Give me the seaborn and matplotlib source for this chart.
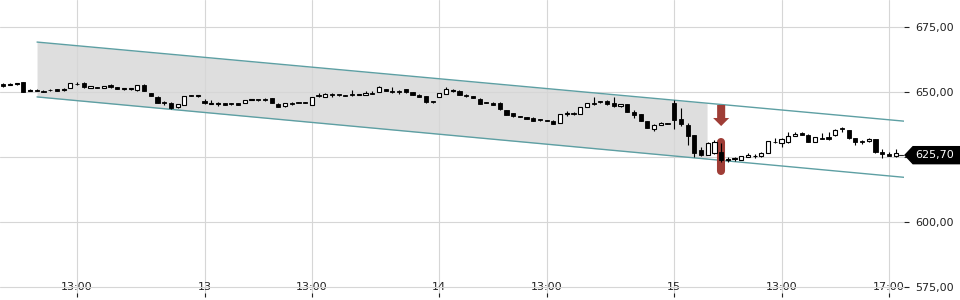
import numpy as np
import matplotlib
matplotlib.use("Agg")
import matplotlib.pyplot as plt
import matplotlib.transforms as mtransforms
from matplotlib.patches import FancyArrow, Polygon
from matplotlib.ticker import FuncFormatter
import seaborn as sns

# ---------------- data (15-minute candles, 12.-15.) ----------------
opens = [653.0, 652.6, 653.0, 653.7, 650.3, 650.8, 650.5, 650.7, 651.0, 650.6,
         651.7, 653.0, 653.6, 651.5, 652.0, 651.6, 652.6, 651.8, 651.0, 651.0,
         650.6, 652.7, 649.6, 648.2, 646.0, 645.6, 644.2, 645.0, 648.7, 648.3,
         646.6, 645.4, 645.4, 645.6, 645.6, 645.7, 645.8, 646.9, 647.0, 647.2,
         647.6, 645.5, 644.5, 645.9, 646.0, 645.9, 645.0, 648.5, 648.0, 649.4,
         648.9, 648.7, 648.9, 648.8, 649.0, 649.8, 650.0, 651.1, 650.4, 650.1,
         651.0, 650.0, 649.0, 648.5, 646.1, 648.0, 649.4, 650.5, 650.4, 649.0,
         648.3, 647.4, 645.8, 645.6, 645.8, 643.0, 642.0, 640.6, 640.2, 640.1,
         639.2, 639.1, 639.0, 638.0, 641.6, 642.0, 641.5, 644.4, 645.6, 646.5,
         646.7, 645.6, 644.6, 645.4, 642.4, 641.5, 638.8, 635.6, 637.4, 637.8,
         645.6, 639.5, 637.4, 633.3, 627.5, 625.9, 626.4, 627.0, 624.0, 624.1,
         624.0, 625.0, 625.2, 625.2, 626.6, 630.8, 630.5, 630.6, 633.2, 634.3,
         633.6, 630.9, 632.1, 632.7, 633.3, 636.0, 635.4, 632.3, 630.8, 631.0,
         632.0, 627.0, 626.1, 625.4]
highs = [653.3, 653.3, 653.5, 653.8, 651.0, 651.0, 650.7, 651.2, 651.3, 651.4,
         653.5, 653.8, 653.8, 652.3, 652.1, 652.3, 653.0, 651.9, 651.7, 651.7,
         652.7, 653.0, 649.7, 648.3, 646.6, 646.0, 645.4, 648.6, 648.8, 648.5,
         647.2, 646.9, 646.2, 645.7, 645.7, 645.8, 647.1, 647.1, 647.1, 647.8,
         647.7, 645.6, 645.9, 646.0, 646.1, 646.0, 648.0, 649.6, 649.5, 649.5,
         649.0, 648.8, 650.8, 649.0, 650.4, 650.3, 652.3, 651.2, 651.8, 650.8,
         651.3, 650.1, 649.1, 648.6, 646.2, 649.6, 651.8, 651.2, 650.8, 649.1,
         648.4, 647.5, 646.3, 646.0, 646.3, 643.1, 642.1, 640.7, 640.3, 640.2,
         639.6, 639.2, 639.1, 641.7, 642.5, 642.3, 644.3, 645.8, 648.0, 646.7,
         646.8, 648.2, 645.5, 645.5, 643.0, 641.6, 638.9, 637.5, 638.3, 637.9,
         646.9, 643.7, 638.1, 633.6, 628.8, 630.8, 631.7, 630.5, 625.0, 624.9,
         625.3, 626.6, 626.3, 627.0, 631.2, 632.2, 632.2, 634.7, 634.5, 634.8,
         633.7, 632.6, 634.2, 634.5, 635.6, 636.5, 635.5, 632.4, 631.6, 632.4,
         632.1, 627.9, 627.0, 628.2]
lows = [652.0, 652.5, 652.6, 649.9, 650.2, 650.2, 649.9, 650.5, 650.4, 650.5,
        651.6, 652.8, 651.7, 651.4, 651.4, 651.5, 651.7, 651.1, 650.9, 650.9,
        650.5, 650.2, 648.4, 645.8, 645.0, 643.4, 644.0, 644.9, 648.5, 648.2,
        645.2, 645.3, 644.8, 645.0, 645.1, 644.9, 645.7, 646.8, 646.7, 646.4,
        645.8, 644.1, 644.4, 645.1, 645.7, 645.7, 644.9, 647.9, 647.9, 648.2,
        648.6, 648.4, 648.6, 648.7, 648.9, 649.2, 649.9, 650.2, 649.8, 649.4,
        649.8, 648.9, 648.1, 645.6, 645.9, 647.9, 649.3, 649.9, 648.7, 648.0,
        647.5, 645.3, 645.6, 644.9, 643.0, 641.1, 640.5, 640.2, 639.6, 638.7,
        638.9, 638.9, 637.6, 637.9, 640.8, 641.3, 641.4, 644.2, 645.1, 645.9,
        645.1, 644.4, 644.4, 642.3, 640.0, 638.9, 636.1, 635.0, 637.3, 637.6,
        635.6, 636.9, 629.6, 625.1, 625.4, 625.6, 626.3, 623.2, 623.2, 623.6,
        623.9, 624.9, 624.8, 625.1, 626.5, 630.5, 629.0, 630.5, 633.1, 633.4,
        630.7, 630.8, 631.9, 631.7, 633.2, 634.6, 632.1, 629.7, 629.9, 630.9,
        626.5, 624.8, 625.3, 625.1]
closes = [652.3, 653.2, 653.1, 650.0, 650.9, 650.3, 650.1, 650.6, 650.5, 651.3,
          653.4, 652.9, 651.8, 652.2, 651.5, 652.2, 651.8, 651.2, 651.6, 651.6,
          652.6, 650.3, 648.5, 645.9, 645.8, 643.7, 645.3, 648.5, 648.6, 648.4,
          645.7, 645.5, 645.5, 645.1, 645.2, 645.0, 647.0, 647.0, 646.8, 647.1,
          645.9, 644.2, 645.6, 645.2, 645.8, 645.8, 647.9, 648.3, 649.4, 648.7,
          648.7, 648.5, 648.7, 648.9, 649.7, 649.3, 652.0, 650.3, 649.9, 650.0,
          650.0, 649.0, 648.2, 646.2, 646.0, 649.5, 651.2, 650.6, 648.9, 648.3,
          647.6, 645.4, 645.7, 645.0, 643.5, 641.2, 640.6, 640.3, 639.7, 638.8,
          639.1, 639.0, 637.8, 641.6, 641.7, 641.4, 644.2, 645.6, 645.2, 646.0,
          645.2, 644.6, 645.4, 642.4, 641.1, 639.0, 636.2, 637.2, 638.2, 637.7,
          639.2, 637.6, 632.9, 626.6, 625.8, 630.5, 630.9, 623.7, 624.1, 624.2,
          625.2, 625.8, 625.3, 626.6, 631.0, 630.6, 631.8, 633.1, 634.0, 633.5,
          630.8, 632.5, 632.0, 632.0, 635.4, 635.8, 632.2, 630.8, 630.7, 632.0,
          626.9, 626.0, 625.4, 626.4]

tick_pos = [11, 30, 46, 65, 81, 100, 116, 132]
tick_labels = ["13:00", "13", "13:00", "14", "13:00", "15", "13:00", "17:00"]
y_ticks = [575, 600, 625, 650, 675]

# trend channel (index, price)
chan_x = [5.04, 134.6]
chan_upper = [669.2, 638.7]
chan_lower = [648.1, 617.1]
fill_end_x = 104.9

signal_idx = 107
arrow_top, arrow_tip = 645.0, 636.9
pill_top, pill_bottom = 630.9, 619.6

last_price = 625.70

# ---------------- style ----------------
sns.set_theme(style="white")
plt.rcParams["font.family"] = ["DejaVu Sans"]

TXT = "#222222"
GRID = "#d6d6d6"
TEAL = "#5d9fa3"
RED = "#9f3d36"
FILL = "#dedede"

fig = plt.figure(figsize=(9.6, 3.0), dpi=100)
ax = fig.add_axes([0, 0.01, 904 / 960, 0.99])
ax.set_xlim(-0.48, 134.25)
ax.set_ylim(571.15, 685.38)

for s in ax.spines.values():
    s.set_visible(False)

ax.set_axisbelow(True)
ax.grid(True, color=GRID, linewidth=0.8)

# channel fill + lines
cx = np.array(chan_x)
cu = np.array(chan_upper)
cl = np.array(chan_lower)
slope_u = (cu[1] - cu[0]) / (cx[1] - cx[0])
slope_l = (cl[1] - cl[0]) / (cx[1] - cx[0])
fx = np.array([cx[0], fill_end_x])
ax.fill_between(fx, cl[0] + slope_l * (fx - cx[0]), cu[0] + slope_u * (fx - cx[0]),
                color=FILL, zorder=0.2, linewidth=0)
sns.lineplot(x=cx, y=cu, ax=ax, color=TEAL, linewidth=1.0, zorder=2)
sns.lineplot(x=cx, y=cl, ax=ax, color=TEAL, linewidth=1.0, zorder=2)

# signal pill (behind the candle)
ax.plot([signal_idx, signal_idx], [pill_bottom, pill_top], color=RED,
        linewidth=5.8, solid_capstyle="round", zorder=2.5)

# candles
o = np.array(opens); h = np.array(highs); l = np.array(lows); c = np.array(closes)
idx = np.arange(len(o))
up = c >= o
ax.vlines(idx, l, h, color="black", linewidth=0.8, zorder=3)
body_bot = np.minimum(o, c)
body_h = np.maximum(np.abs(c - o), 0.35)
ax.bar(idx[up], body_h[up], bottom=body_bot[up], width=0.62, color="white",
       edgecolor="black", linewidth=0.8, zorder=4)
ax.bar(idx[~up], body_h[~up], bottom=body_bot[~up], width=0.62, color="black",
       edgecolor="black", linewidth=0.6, zorder=4)

# signal arrow
ax.add_patch(FancyArrow(signal_idx, arrow_top, 0, -(arrow_top - arrow_tip),
                        width=1.2, head_width=2.4, head_length=3.1,
                        length_includes_head=True, color=RED, linewidth=0, zorder=5))

# axes ticks
ax.set_xticks(tick_pos)
ax.set_xticklabels(tick_labels)
ax.tick_params(axis="x", direction="in", length=3, width=0.8, pad=-11,
               labelsize=8, colors=TXT, bottom=True)
ax.yaxis.tick_right()
ax.set_yticks(y_ticks)
# the 625 label sits under the last-price tag, so it is left blank
ax.yaxis.set_major_formatter(FuncFormatter(
    lambda v, p: "" if abs(v - 625) < 1e-9 else f"{v:.2f}".replace(".", ",")))
ax.tick_params(axis="y", direction="out", length=3.6, width=0.8, pad=4.3,
               labelsize=8, colors=TXT, right=True, left=False)

# last price tag
trans = mtransforms.blended_transform_factory(ax.transAxes, ax.transData)
hh = 8.5 / 2.6
x0 = 905 / 904
x1 = 913 / 904
x2 = 962 / 904
tag = Polygon([[x0, last_price], [x1, last_price + hh], [x2, last_price + hh],
               [x2, last_price - hh], [x1, last_price - hh]],
              closed=True, transform=trans, color="black", clip_on=False, zorder=6)
ax.add_patch(tag)
ax.text(935 / 904, last_price, f"{last_price:.2f}".replace(".", ","), transform=trans,
        color="white", fontsize=8, ha="center", va="center", clip_on=False, zorder=7)
ax.plot([899 / 904, 903 / 904], [last_price, last_price], transform=trans,
        color=TXT, linewidth=0.8, clip_on=False)

fig.savefig("out.png", dpi=100)
